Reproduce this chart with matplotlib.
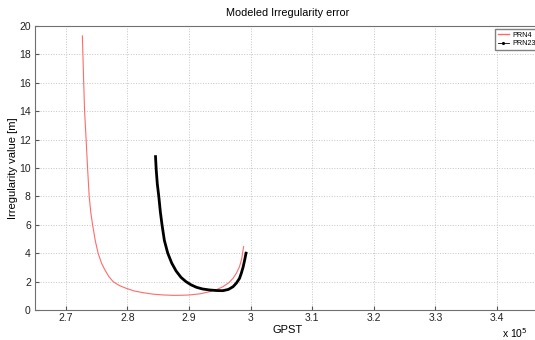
import numpy as np
import matplotlib.pyplot as plt
from matplotlib.lines import Line2D

plt.rcParams['font.family'] = ['Liberation Sans', 'DejaVu Sans']

# GPST in units of 1e5 s
prn4_t = [2.7269, 2.729, 2.7305, 2.733, 2.7355, 2.738, 2.7405, 2.7435, 2.748, 2.7525,
          2.758, 2.7635, 2.770, 2.777, 2.787, 2.7985, 2.811, 2.8255, 2.841, 2.858,
          2.875, 2.890, 2.901, 2.918, 2.9335, 2.945, 2.955, 2.964, 2.9715, 2.977,
          2.982, 2.9855, 2.9886]
prn4_val = [19.3, 16.1, 14.0, 12.0, 9.86, 7.98, 6.9, 5.99, 4.85, 3.99,
            3.3, 2.82, 2.35, 1.99, 1.72, 1.52, 1.34, 1.22, 1.12, 1.06,
            1.03, 1.04, 1.06, 1.14, 1.29, 1.44, 1.64, 1.9, 2.23, 2.6,
            3.05, 3.6, 4.46]

prn23_t = [2.8455, 2.8468, 2.8485, 2.851, 2.8535, 2.8562, 2.860, 2.8655, 2.872, 2.879,
           2.887, 2.895, 2.903, 2.912, 2.922, 2.9335, 2.945, 2.955, 2.964, 2.9715,
           2.977, 2.982, 2.985, 2.988, 2.9905, 2.993]
prn23_val = [10.9, 9.86, 8.9, 7.98, 6.9, 6.0, 4.9, 4.0, 3.3, 2.75,
             2.3, 2.0, 1.78, 1.6, 1.48, 1.41, 1.37, 1.36, 1.45, 1.64,
             1.9, 2.23, 2.6, 3.05, 3.55, 4.1]

xticks = [2.7, 2.8, 2.9, 3.0, 3.1, 3.2, 3.3, 3.4]
xticklabels = ['2.7', '2.8', '2.9', '3', '3.1', '3.2', '3.3', '3.4']
yticks = np.arange(0, 21, 2)

W, H = 535, 340
fig = plt.figure(figsize=(W / 100, H / 100), dpi=100)
# axes run slightly past the right edge, like the cropped original
ax = fig.add_axes([35 / W, 30 / H, 506 / W, 284 / H])

ax.plot(prn4_t, prn4_val, color='#ff6b6b', lw=0.8)
ax.plot(prn23_t, prn23_val, color='black', lw=2.0, solid_capstyle='butt',
        solid_joinstyle='round')

ax.set_xlim(2.65, 3.4714)
ax.set_ylim(0, 20)
ax.set_xticks(xticks)
ax.set_xticklabels(xticklabels)
ax.set_yticks(yticks)
ax.grid(True, color='#c4c4c4', linestyle=':', lw=0.7)
ax.tick_params(direction='in', length=3, labelsize=7.5, colors='#555555',
               labelcolor='#222222')
ax.tick_params(axis='x', pad=2.5)
ax.tick_params(axis='y', pad=3)
for s in ax.spines.values():
    s.set_color('#707070')
    s.set_linewidth(0.8)

ax.set_title('Modeled Irregularity error', fontsize=7.8, pad=7)
ax.set_xlabel('GPST', fontsize=8, labelpad=1)
ax.set_ylabel('Irregularity value [m]', fontsize=8, labelpad=1)
fig.text(502 / W, 1 - 333 / H, 'x 10$^{5}$', fontsize=7.5, va='center', ha='left')

handles = [Line2D([], [], color='#ff6b6b', lw=1.0),
           Line2D([], [], color='black', lw=0.6, marker='.', markersize=2.5)]
ax.legend(handles, ['PRN4', 'PRN23'], loc='upper left',
          bbox_to_anchor=(495 / W, 1 - 29 / H), bbox_transform=fig.transFigure,
          fontsize=5.2, frameon=True, fancybox=False, framealpha=1,
          edgecolor='#808080', handlelength=1.6, handletextpad=0.4,
          borderpad=0.35, labelspacing=0.25, borderaxespad=0)

fig.savefig('out.png', dpi=100)
